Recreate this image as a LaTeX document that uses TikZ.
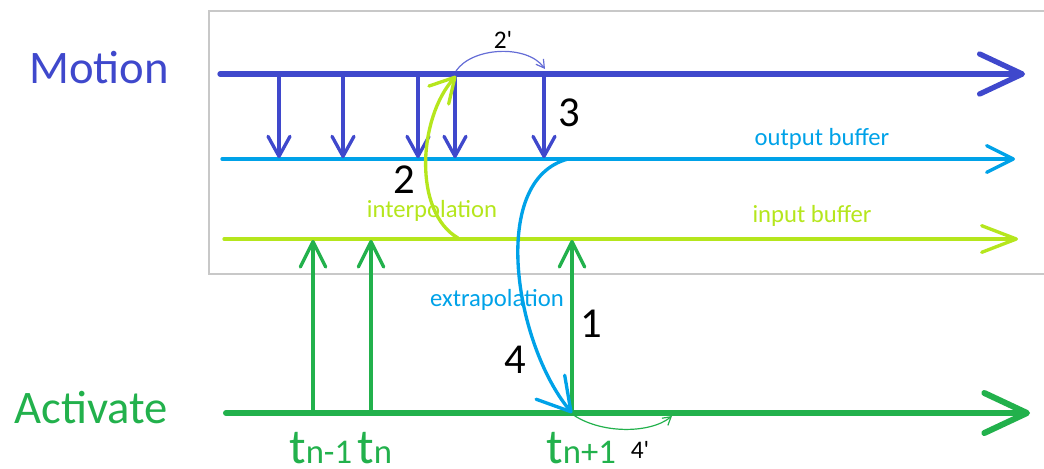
\documentclass[tikz,border=0pt]{standalone}
\usepackage{fontspec}
\setmainfont{Carlito}
\usetikzlibrary{arrows.meta}
\definecolor{motionc}{HTML}{3F48CC}
\definecolor{outc}{HTML}{00A2E8}
\definecolor{inc}{HTML}{B5E61D}
\definecolor{actc}{HTML}{22B14C}
\definecolor{boxc}{HTML}{C8C8C8}
\tikzset{
  mainline/.style={line cap=round, line join=round},
  bigbarb/.style={-{Straight Barb[length=32pt,width=30pt,round]}},
  midbarb/.style={-{Straight Barb[length=20pt,width=20pt,round]}},
  downbarb/.style={-{Straight Barb[length=15pt,width=16.5pt,round]}},
  upbarb/.style={-{Straight Barb[length=19pt,width=19pt,round]}},
  smallbarb/.style={-{Straight Barb[length=6pt,width=7pt]}},
  bigtext/.style={font=\fontsize{35}{40}\selectfont, anchor=base},
  numtext/.style={font=\fontsize{32}{36}\selectfont, text=black, anchor=base},
  primetext/.style={font=\fontsize{19}{22}\selectfont, text=black, anchor=base},
  smalltext/.style={font=\fontsize{18.5}{22}\selectfont, anchor=base},
  tlabel/.style={anchor=base west, inner sep=0pt, text=actc},
}
\newcommand{\tbig}{\fontsize{37}{40}\selectfont}
\newcommand{\tsmall}{\fontsize{26}{30}\selectfont}
\begin{document}
\begin{tikzpicture}[x=0.75pt,y=-0.75pt]
\useasboundingbox (0,0) rectangle (1044,468);
% frame
\draw[boxc, line width=1.5pt] (1060,11) -- (209,11) -- (209,274) -- (1060,274);
% main lines
\coordinate (m0) at (220,74);  \coordinate (m1) at (1025,74);
\coordinate (o0) at (222,159); \coordinate (o1) at (1015,159);
\coordinate (i0) at (224,239); \coordinate (i1) at (1018,239);
\coordinate (a0) at (226,413); \coordinate (a1) at (1030,413);
\draw[mainline, motionc, line width=4pt, bigbarb] (m0) -- (m1);
\draw[mainline, outc, line width=2.5pt, midbarb] (o0) -- (o1);
\draw[mainline, inc, line width=2.5pt, -{Straight Barb[length=26pt,width=20pt,round]}] (i0) -- (i1);
\draw[mainline, actc, line width=4.5pt, bigbarb] (a0) -- (a1);
% down arrows motion -> output buffer
\foreach \n/\x in {1/279,2/343,3/418,4/455,5/544}{
  \coordinate (dt\n) at (\x,74);
  \coordinate (db\n) at (\x,158);
  \draw[mainline, motionc, line width=2.5pt, downbarb] (dt\n) -- (db\n);
}
% up arrows activate -> input buffer
\foreach \n/\x in {1/313,2/371,3/572}{
  \coordinate (ub\n) at (\x,413);
  \coordinate (ut\n) at (\x,240);
  \draw[mainline, actc, line width=2.5pt, upbarb] (ub\n) -- (ut\n);
}
% interpolation curve
\coordinate (ip0) at (458,238);
\coordinate (ip1) at (456,76);
\draw[mainline, inc, line width=2.5pt, -{Straight Barb[length=18pt,width=20pt,round]}]
  (ip0) .. controls (413,212) and (418,118) .. (ip1);
% extrapolation curve
\coordinate (ex0) at (568,159);
\coordinate (ex1) at (572,413);
\draw[mainline, outc, line width=2.5pt, -{Straight Barb[length=24pt,width=28pt,round]}]
  (ex0) .. controls (488,180) and (515,345) .. (ex1);
% 2' arc
\coordinate (p0) at (456,71);
\coordinate (p1) at (545,69);
\draw[motionc!80, line width=0.9pt, smallbarb] (p0) .. controls (472,47) and (527,44) .. (p1);
% 4' arc
\coordinate (q0) at (572,414);
\coordinate (q1) at (672,416);
\draw[actc, line width=0.9pt, smallbarb] (q0) .. controls (600,434) and (650,434) .. (q1);
% labels
\node[bigtext, text=motionc] (motion) at (99,83) {Motion};
\node[bigtext, text=actc] (activate) at (91,423) {Activate};
\node[numtext] (n3) at (569,126) {3};
\node[numtext] (n2) at (404,193) {2};
\node[numtext] (n1) at (591,337) {1};
\node[numtext] (n4) at (515,373) {4};
\node[primetext] (p2) at (503,48) {2\textquotesingle};
\node[primetext] (p4) at (640,458) {4\textquotesingle};
\node[smalltext, text=inc] (interp) at (432,217) {interpolation};
\node[smalltext, text=outc] (extrap) at (497,306) {extrapolation};
\node[smalltext, text=outc] (outb) at (822,145) {output buffer};
\node[smalltext, text=inc] (inb) at (812,222) {input buffer};
\node[tlabel] (tnm1) at (289,463) {\tbig t\tsmall n-1};
\node[tlabel] (tn) at (357,463) {\tbig t\tsmall n};
\node[tlabel] (tnp1) at (546,463) {\tbig t\tsmall n+1};
\end{tikzpicture}
\end{document}
